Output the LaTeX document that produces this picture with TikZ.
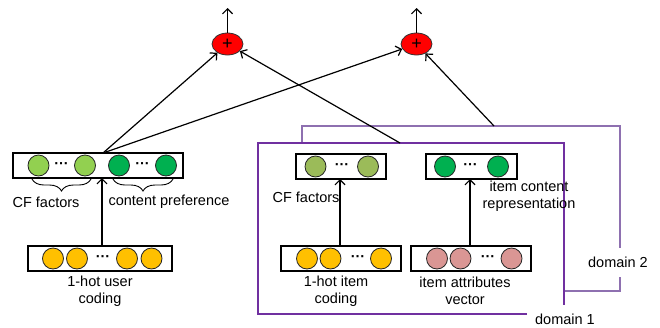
\documentclass[tikz,border=0pt]{standalone}
\usepackage{fontspec}
\setmainfont{Liberation Sans}
\usetikzlibrary{shapes.geometric,arrows.meta,decorations.pathreplacing}
\definecolor{lgreen}{HTML}{92D050}
\definecolor{dgreen}{HTML}{00B050}
\definecolor{olive}{HTML}{9BBB59}
\definecolor{orng}{HTML}{FFC000}
\definecolor{pinkc}{HTML}{DA9694}
\definecolor{dom1}{HTML}{7030A0}
\definecolor{dom2}{HTML}{8E70B0}
\begin{document}
\begin{tikzpicture}[x=1pt,y=-1pt,
  font=\fontsize{14.5}{17}\selectfont,
  box/.style={draw=black, line width=1.4pt, rectangle, minimum height=25pt, inner sep=0pt},
  ball/.style={circle, draw=black!85, line width=0.8pt, minimum size=21pt, inner sep=0pt},
  dotsn/.style={inner sep=0pt, font=\fontsize{14.5}{17}\selectfont\bfseries},
  plus/.style={ellipse, draw=black!80, fill=red, line width=0.8pt, minimum width=31pt, minimum height=22pt, inner sep=0pt, font=\fontsize{18}{18}\selectfont},
  conn/.style={line width=1.2pt, draw=black},
  arr/.style={conn, -{Straight Barb[length=5pt,width=10pt,line width=1.2pt]}},
  lbl/.style={inner sep=0pt, align=center},
  brc/.style={line width=0.9pt, decorate, decoration={brace, mirror, amplitude=12pt}}
]
\useasboundingbox (0,0) rectangle (660,327);

% plus nodes
\node[plus] (pl) at (227.5,44) {+};
\node[plus] (pr) at (416.5,44) {+};
\coordinate (plout) at (227.5,8);
\coordinate (prout) at (416.5,8);
\draw[arr] (pl.north) -- (plout);
\draw[arr] (pr.north) -- (prout);

% user side
\node[box, minimum width=170pt] (utop) at (98,165.5) {};
\node[ball, fill=lgreen] (u1) at (38.5,165.5) {};
\node[dotsn] (ud1) at (61.5,165.5) {···};
\node[ball, fill=lgreen] (u2) at (85,165.5) {};
\node[ball, fill=dgreen] (u3) at (119,165.5) {};
\node[dotsn] (ud2) at (142.5,165.5) {···};
\node[ball, fill=dgreen] (u4) at (166,165.5) {};
\coordinate (b1a) at (32,179);
\coordinate (b1b) at (91,179);
\coordinate (b2a) at (113,179);
\coordinate (b2b) at (173,179);
\draw[brc] (b1a) -- (b1b);
\draw[brc] (b2a) -- (b2b);
\node[lbl] (cfu) at (46,202) {CF factors};
\node[lbl] (cpu) at (169,202) {content preference};

\node[box, minimum width=144pt] (ubot) at (100,258.5) {};
\node[ball, fill=orng] (o1) at (53,258.5) {};
\node[ball, fill=orng] (o2) at (77,258.5) {};
\node[dotsn] (od) at (103,258.5) {···};
\node[ball, fill=orng] (o3) at (127,258.5) {};
\node[ball, fill=orng] (o4) at (151.5,258.5) {};
\node[lbl] (ul) at (100,291) {1-hot user\\coding};
\coordinate (uarr) at (102,246);
\coordinate (uarrt) at (102,178);
\draw[arr] (uarr) -- (uarrt);

% domains
\draw[dom2, line width=1.8pt] (302,143) -- (302,126) -- (620,126) -- (620,248);
\draw[dom2, line width=1.8pt] (620,277) -- (620,291) -- (564,291);
\draw[dom1, line width=2pt] (527,314) -- (258,314) -- (258,143) -- (564,143) -- (564,305);
\node[lbl] (d2) at (618,262) {domain 2};
\node[lbl] (d1) at (565,319) {domain 1};

% item side
\node[box, minimum width=90pt] (icf) at (341,166.5) {};
\node[ball, fill=olive] (i1) at (315.5,166.5) {};
\node[dotsn] (idd1) at (342,166.5) {···};
\node[ball, fill=olive] (i2) at (368,166.5) {};
\node[box, minimum width=91pt] (icn) at (471.5,166.5) {};
\node[ball, fill=dgreen] (i3) at (445,166.5) {};
\node[dotsn] (idd2) at (470.5,166.5) {···};
\node[ball, fill=dgreen] (i4) at (498,166.5) {};
\node[lbl] (cfi) at (306,197) {CF factors};
\node[lbl] (icr) at (529,196.5) {item content\\representation};

\node[box, minimum width=120pt] (icod) at (341,258.5) {};
\node[ball, fill=orng] (io1) at (307,258.5) {};
\node[ball, fill=orng] (io2) at (330.5,258.5) {};
\node[dotsn] (iod) at (358,258.5) {···};
\node[ball, fill=orng] (io3) at (381,258.5) {};
\node[box, minimum width=120pt] (iatt) at (471,258.5) {};
\node[ball, fill=pinkc] (ia1) at (437,258.5) {};
\node[ball, fill=pinkc] (ia2) at (460.5,258.5) {};
\node[dotsn] (iad) at (488,258.5) {···};
\node[ball, fill=pinkc] (ia3) at (511.5,258.5) {};
\node[lbl] (icl) at (336,291) {1-hot item\\coding};
\node[lbl] (ial) at (465,291) {item attributes\\vector};
\coordinate (ia) at (340,246);
\coordinate (iat) at (340,179);
\coordinate (ib) at (470,246);
\coordinate (ibt) at (470,179);
\draw[arr] (ia) -- (iat);
\draw[arr] (ib) -- (ibt);

% connectors to plus nodes
\coordinate (us) at (103,153);
\coordinate (d1s) at (400,143);
\coordinate (d2s) at (494,126);
\draw[arr] (us) -- (pl);
\draw[arr] (us) -- (pr);
\draw[arr] (d1s) -- (pl);
\draw[arr] (d2s) -- (pr);
\end{tikzpicture}
\end{document}
